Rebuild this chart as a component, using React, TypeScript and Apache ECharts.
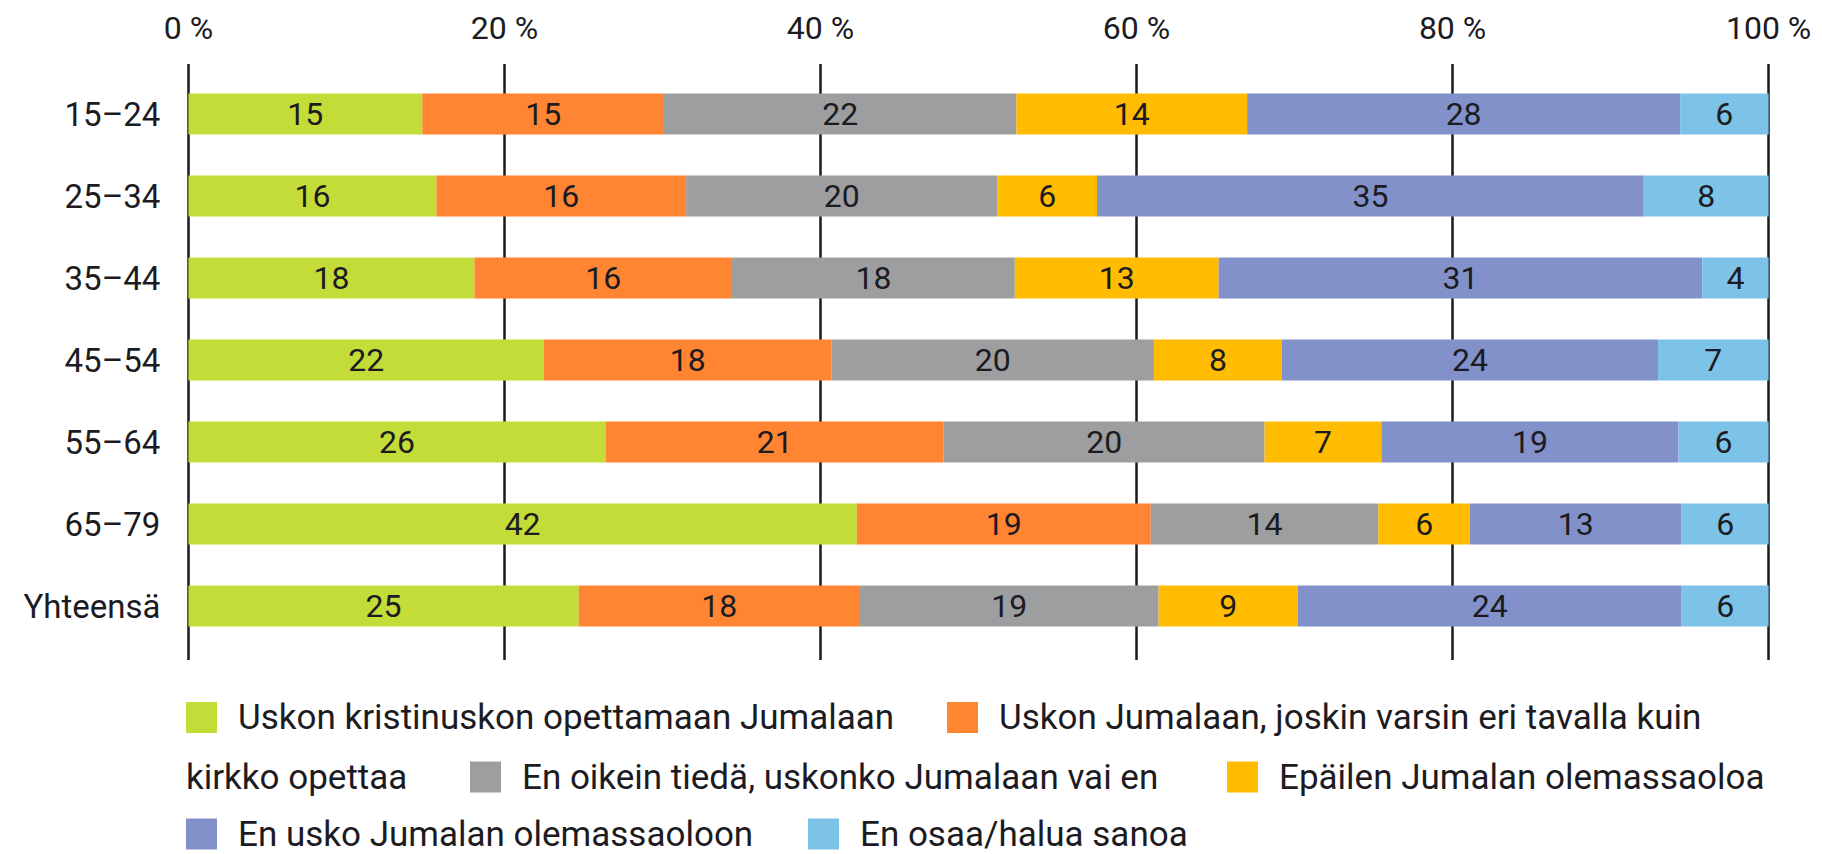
import React, { useEffect, useRef } from "react";
import * as echarts from "echarts";

const categories = ["15–24", "25–34", "35–44", "45–54", "55–64", "65–79", "Yhteensä"];

const seriesNames = [
  "Uskon kristinuskon opettamaan Jumalaan",
  "Uskon Jumalaan, joskin varsin eri tavalla kuin kirkko opettaa",
  "En oikein tiedä, uskonko Jumalaan vai en",
  "Epäilen Jumalan olemassaoloa",
  "En usko Jumalan olemassaoloon",
  "En osaa/halua sanoa",
];

// bar lengths (share of row, %)
const greenShares = [14.8, 15.7, 18.1, 22.5, 26.4, 42.3, 24.7];
const orangeShares = [15.3, 15.8, 16.3, 18.2, 21.4, 18.6, 17.8];
const grayShares = [22.3, 19.7, 17.9, 20.4, 20.3, 14.4, 18.9];
const yellowShares = [14.6, 6.3, 12.9, 8.1, 7.4, 5.8, 8.8];
const purpleShares = [27.4, 34.6, 30.6, 23.8, 18.8, 13.4, 24.3];
const blueShares = [5.6, 7.9, 4.2, 7.0, 5.7, 5.5, 5.5];

// printed value labels
const greenLabels = [15, 16, 18, 22, 26, 42, 25];
const orangeLabels = [15, 16, 16, 18, 21, 19, 18];
const grayLabels = [22, 20, 18, 20, 20, 14, 19];
const yellowLabels = [14, 6, 13, 8, 7, 6, 9];
const purpleLabels = [28, 35, 31, 24, 19, 13, 24];
const blueLabels = [6, 8, 4, 7, 6, 6, 6];

const tickValues = [0, 20, 40, 60, 80, 100];

const colors = ["#C3DC37", "#FF8533", "#9D9EA0", "#FFBC00", "#8391CB", "#7DC3E8"];

const FONT = "Roboto";
const TEXT = "#1c1b22";
const LEGEND_FS = 35;
const LEGEND_LH = 36;

export default function App() {
  const ref = useRef<HTMLDivElement>(null);

  useEffect(() => {
    document.body.style.margin = "0";
    if (!ref.current) return;
    const chart = echarts.init(ref.current, undefined, { renderer: "svg" });

    const shares = [greenShares, orangeShares, grayShares, yellowShares, purpleShares, blueShares];
    const labels = [greenLabels, orangeLabels, grayLabels, yellowLabels, purpleLabels, blueLabels];

    const legendPos = [
      { left: 186, cy: 717.5 },
      { left: 947, cy: 717.5 },
      { left: 470, cy: 777 },
      { left: 1227, cy: 777 },
      { left: 186, cy: 834 },
      { left: 808, cy: 834 },
    ];

    const legends = seriesNames.map((name, i) => ({
      data: [name],
      left: legendPos[i].left,
      top: legendPos[i].cy - LEGEND_LH / 2,
      orient: "horizontal",
      padding: 0,
      itemWidth: 31,
      itemHeight: 31,
      icon: "rect",
      selectedMode: false,
      formatter: (n: string) =>
        n === seriesNames[1] ? "Uskon Jumalaan, joskin varsin eri tavalla kuin" : n,
      textStyle: {
        fontFamily: FONT,
        fontSize: LEGEND_FS,
        color: TEXT,
        lineHeight: LEGEND_LH,
        padding: [0, 0, 0, 16],
      },
    }));

    chart.setOption({
      animation: false,
      backgroundColor: "#ffffff",
      color: colors,
      textStyle: { fontFamily: FONT },
      grid: [
        { left: 188.4, right: 53.4, top: 73, height: 574 },
        { left: 188.4, right: 53.4, top: 64, height: 596 },
      ],
      xAxis: [
        { type: "value", gridIndex: 0, min: 0, max: 100, show: false },
        {
          type: "value",
          gridIndex: 1,
          position: "top",
          min: 0,
          max: 100,
          interval: 20,
          axisLine: { show: false },
          axisTick: { show: false },
          axisLabel: {
            margin: 20,
            fontSize: 32,
            fontFamily: FONT,
            color: TEXT,
            formatter: (v: number) => (tickValues.includes(v) ? `${v} %` : ""),
          },
          splitLine: { show: true, lineStyle: { color: "#1a1a1a", width: 2.5 } },
        },
      ],
      yAxis: [
        {
          type: "category",
          gridIndex: 0,
          inverse: true,
          data: categories,
          axisLine: { show: false },
          axisTick: { show: false },
          axisLabel: { margin: 28, fontSize: 33, fontFamily: FONT, color: TEXT },
        },
        { type: "value", gridIndex: 1, show: false },
      ],
      legend: legends,
      graphic: [
        {
          type: "text",
          x: 186,
          y: 777,
          style: {
            text: "kirkko opettaa",
            fontSize: LEGEND_FS,
            fontFamily: FONT,
            fill: TEXT,
            align: "left",
            verticalAlign: "middle",
          },
        },
      ],
      series: seriesNames.map((name, i) => ({
        name,
        type: "bar",
        stack: "total",
        xAxisIndex: 0,
        yAxisIndex: 0,
        barWidth: 41,
        data: shares[i],
        itemStyle: { color: colors[i] },
        label: {
          show: true,
          position: "inside",
          fontSize: 32,
          fontFamily: FONT,
          color: TEXT,
          formatter: (p: any) => String(labels[i][p.dataIndex]),
        },
      })),
    });

    return () => chart.dispose();
  }, []);

  return <div ref={ref} style={{ width: 1822, height: 854 }} />;
}
